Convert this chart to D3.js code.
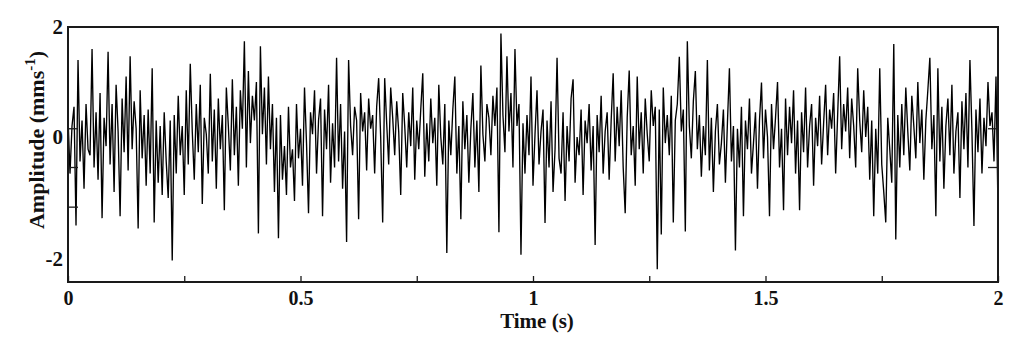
<!DOCTYPE html>
<html lang="en">
<head>
  <meta charset="utf-8">
  <title>Amplitude vs time</title>
  <script src="https://d3js.org/d3.v7.min.js"></script>
  <style>
    body { margin: 0; background: #fff; }
    text { font-family: "Liberation Serif", "Times New Roman", serif; font-weight: bold; fill: #111; }
  </style>
</head>
<body>
<svg width="1024" height="342"></svg>
<script>

// amplitude samples (mm/s), evenly spaced over 0..2 s
var amplitude = [
  0.35,-0.6,0.2,0.55,-1.45,1.4,-0.4,0.3,-0.85,0.6,-0.2,-0.3,1.6,-0.5,0.45,
  -0.7,0.8,-1.33,0.35,-0.15,1.55,-0.45,0.6,-0.9,0.95,0.1,-1.3,0.7,-0.25,1.1,
  -0.55,1.47,-0.2,0.65,0.15,-1.5,0.85,-0.35,0.4,-0.8,0.5,-0.6,1.25,-1.4,0.3,
  -0.75,0.2,-0.95,0.45,-0.4,-1.0,0.3,-2.03,0.4,-0.6,0.75,-0.3,0.2,-0.95,0.85,
  -0.45,1.33,0.1,-0.7,0.6,-0.25,0.95,-1.1,0.35,0.05,-0.6,1.15,-0.4,0.5,-0.85,
  0.7,-0.2,0.4,-1.2,0.9,0.2,-0.55,1.05,-0.3,0.55,-0.8,0.85,0.15,1.74,-0.5,
  1.2,-0.1,0.75,0.3,1.0,-1.58,1.65,0.05,0.9,-0.45,1.1,-0.2,0.6,-0.9,0.35,
  -1.66,0.4,-0.7,-0.15,-0.95,0.55,-0.5,-0.2,-1.05,0.6,-0.35,0.15,-0.8,0.9,-0.1,
  -1.25,0.45,0.05,0.85,-0.6,0.3,0.7,-1.3,0.5,-0.2,0.95,-0.75,0.25,-0.5,1.44,
  -0.4,0.6,-0.85,0.1,-1.72,1.4,0.2,-0.3,0.55,0.3,-1.35,0.8,0.1,0.45,-0.55,
  0.7,0.15,0.4,-0.6,0.55,1.07,0.0,-1.4,1.07,0.25,-0.45,0.9,0.35,-0.3,0.65,
  0.1,-0.95,0.8,0.2,-0.5,0.45,-0.15,0.9,-0.7,0.3,-0.2,0.5,1.16,-0.65,0.25,
  -0.4,0.7,-0.1,0.35,-0.8,0.95,0.0,-0.45,0.6,-1.9,0.3,-0.3,0.5,1.1,-0.6,
  0.2,-1.35,0.65,-0.2,0.4,-0.75,0.15,0.8,-0.5,0.3,-0.9,1.3,0.05,-0.4,0.6,
  0.35,-0.3,0.75,0.2,0.9,-1.56,1.88,0.4,-0.25,1.47,0.1,0.8,-0.5,1.6,0.2,
  0.6,-1.93,0.25,-0.6,0.4,-0.3,1.1,-0.8,0.05,0.85,-0.45,0.1,0.5,-1.41,0.3,
  -0.5,0.65,-0.9,-0.2,1.44,-0.35,-0.6,0.45,-1.05,0.2,-0.4,0.7,1.05,-0.75,0.0,
  -0.3,0.5,-0.95,0.3,-0.1,0.6,-0.55,0.2,-1.77,0.4,-0.25,0.75,-0.6,0.1,0.45,
  -0.7,0.3,1.16,-0.4,0.55,-0.15,0.85,-0.5,-1.25,0.35,1.21,-0.3,0.2,-0.8,1.1,
  -0.2,0.45,-0.6,0.7,0.05,-0.4,0.85,0.2,0.55,-2.2,0.5,-1.6,0.9,-0.1,0.4,
  -0.3,0.75,-1.4,0.3,0.6,1.46,0.1,0.5,-1.55,1.74,0.2,-0.35,0.65,1.2,-0.2,
  0.4,-0.65,0.2,-0.3,1.4,-0.55,0.35,-0.9,0.1,0.6,-0.45,-0.1,0.5,-0.75,0.25,
  1.25,-0.4,0.2,-1.86,0.15,-0.5,0.55,-1.3,0.3,-0.2,0.7,-0.6,-0.1,0.45,-0.85,
  0.3,0.99,-0.35,0.5,0.0,-1.3,0.6,-0.2,0.35,1.0,-0.5,0.15,-1.2,0.7,-0.3,
  0.55,-0.1,0.85,-0.6,0.3,-1.2,0.45,-0.25,0.9,-0.5,0.2,0.6,-0.8,0.35,-0.15,
  0.75,-0.45,0.25,0.95,-0.3,0.5,0.15,0.8,-0.6,0.4,1.47,-0.2,0.6,0.1,0.9,
  -0.35,0.7,0.2,-0.5,1.25,0.3,-0.25,0.85,0.0,0.55,-0.7,0.3,-1.3,0.15,-0.6,
  1.25,-0.45,-0.9,-1.4,0.35,-0.2,-0.75,1.69,-1.68,0.4,-0.5,0.6,-0.3,0.9,0.1,
  -0.55,0.75,0.2,-0.35,1.0,-0.1,0.5,-0.7,0.3,0.85,1.44,-0.2,0.4,-1.3,1.25,
  -0.4,0.55,-0.85,0.2,0.7,-0.3,0.95,-0.6,0.1,0.45,-1.0,0.65,-0.2,0.8,-0.5,
  1.4,0.1,-1.46,0.5,-0.25,0.7,-0.6,0.35,-0.15,1.0,0.2,0.45,-0.4,1.1,-1.2
];

var duration = 2;                       // seconds
var xTicks = [0, 0.25, 0.5, 0.75, 1, 1.25, 1.5, 1.75, 2];
var xLabels = [0, 0.5, 1, 1.5, 2];
var yLabels = [-2, 0, 2];
var yMarksLeft = [0.15, -0.5, -1.15];   // short inner marks on the left edge
var yMarksRight = [0.15, -0.5];

var svg = d3.select("svg");
var plotL = 68, plotR = 998, plotT = 27, plotB = 282;

var x = d3.scaleLinear().domain([0, duration]).range([plotL, plotR]);
// the printed axis is not quite uniform, so pin the labelled values
var y = d3.scaleLinear().domain([-2.45, -2, 0, 2]).range([plotB, 259, 137, plotT]);

var dt = duration / (amplitude.length - 1);

var line = d3.line()
    .x(function(d, i) { return x(i * dt); })
    .y(function(d) { return y(d); });

svg.append("path")
    .datum(amplitude)
    .attr("fill", "none")
    .attr("stroke", "#000")
    .attr("stroke-width", 1.35)
    .attr("stroke-linejoin", "miter")
    .attr("d", line);

// frame
svg.append("rect")
    .attr("x", plotL).attr("y", plotT)
    .attr("width", plotR - plotL).attr("height", plotB - plotT)
    .attr("fill", "none")
    .attr("stroke", "#1a1a1a")
    .attr("stroke-width", 2);

// bottom axis: inward ticks, labels every 0.5 s
var xAxis = svg.append("g")
    .attr("transform", "translate(0," + plotB + ")")
    .call(d3.axisBottom(x)
        .tickValues(xTicks)
        .tickSizeInner(-6)
        .tickSizeOuter(0)
        .tickPadding(9)
        .tickFormat(function(d) { return xLabels.indexOf(d) >= 0 ? String(d) : ""; }));
xAxis.select(".domain").remove();
xAxis.selectAll("line").attr("stroke", "#1a1a1a").attr("stroke-width", 1.3);
xAxis.selectAll("text").attr("font-size", 20).attr("fill", "#111");

var yAxis = svg.append("g")
    .attr("transform", "translate(" + plotL + ",0)")
    .call(d3.axisLeft(y).tickValues(yLabels).tickSize(0).tickPadding(5)
        .tickFormat(function(d) { return String(d); }));
yAxis.select(".domain").remove();
yAxis.selectAll("text").attr("font-size", 21).attr("fill", "#111");

svg.append("g").selectAll("line")
    .data(yMarksLeft)
    .join("line")
    .attr("x1", plotL).attr("x2", plotL + 10)
    .attr("y1", function(d) { return y(d); })
    .attr("y2", function(d) { return y(d); })
    .attr("stroke", "#1a1a1a").attr("stroke-width", 1.3);

svg.append("g").selectAll("line")
    .data(yMarksRight)
    .join("line")
    .attr("x1", plotR - 10).attr("x2", plotR)
    .attr("y1", function(d) { return y(d); })
    .attr("y2", function(d) { return y(d); })
    .attr("stroke", "#1a1a1a").attr("stroke-width", 1.3);

// axis titles
svg.append("text")
    .attr("x", 537).attr("y", 328)
    .attr("text-anchor", "middle")
    .attr("font-size", 21)
    .text("Time (s)");

var yt = svg.append("text")
    .attr("transform", "translate(44,140) rotate(-90)")
    .attr("text-anchor", "middle")
    .attr("font-size", 22);
yt.append("tspan").text("Amplitude (mms");
yt.append("tspan").attr("dy", -9).attr("font-size", 15).text("-1");
yt.append("tspan").attr("dy", 9).text(")");

</script>
</body>
</html>
